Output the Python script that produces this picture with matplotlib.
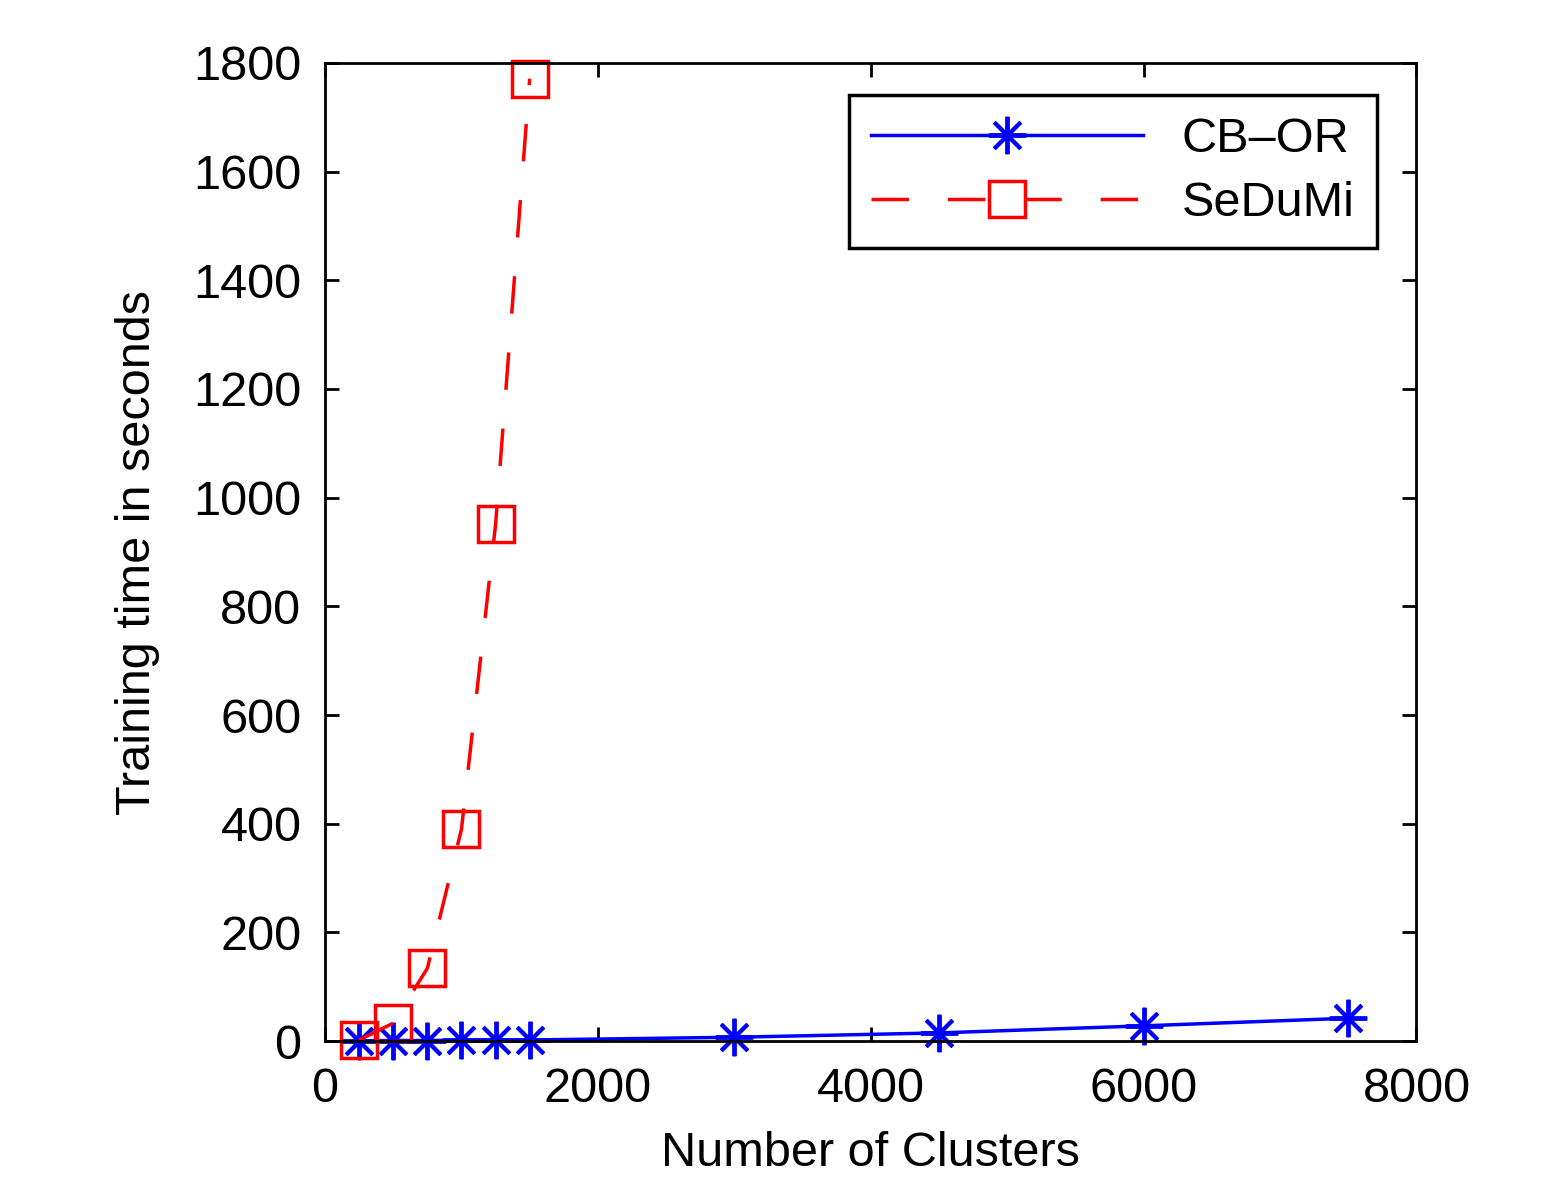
import matplotlib.pyplot as plt

# data
clusters_cbor = [250, 500, 750, 1000, 1250, 1500, 3000, 4500, 6000, 7500]
time_cbor = [0.5, 1, 1, 1.5, 1.5, 2, 7, 15, 28, 42]

clusters_sedumi = [250, 500, 750, 1000, 1250, 1500]
time_sedumi = [2, 33, 134, 390, 951, 1771]

plt.rcParams['font.family'] = ['Liberation Sans', 'DejaVu Sans']
plt.rcParams['lines.scale_dashes'] = False

fig = plt.figure(figsize=(15.45, 11.79), dpi=100)
ax = fig.add_axes([0.2104, 0.117, 0.7064, 0.8296])

# CB-OR: solid blue with asterisk markers
ax.plot(clusters_cbor, time_cbor, color='blue', linewidth=2.5,
        marker=(8, 2, 0), markersize=27, markeredgewidth=2.8,
        label='CB\u2013OR', clip_on=False)

# SeDuMi: dashed red with open squares
ax.plot(clusters_sedumi, time_sedumi, color='red', linewidth=2.5,
        dashes=(27, 28), marker='s', markersize=26,
        markerfacecolor='none', markeredgewidth=2.5,
        label='SeDuMi', clip_on=False)

ax.set_xlim(0, 8000)
ax.set_ylim(0, 1800)
ax.set_xticks([0, 2000, 4000, 6000, 8000])
ax.set_yticks(range(0, 1801, 200))

ax.tick_params(direction='in', top=True, right=True, length=10,
               width=2, labelsize=35)
ax.tick_params(axis='x', pad=19)
ax.tick_params(axis='y', pad=17)
for side in ax.spines.values():
    side.set_linewidth(2)

ax.set_xlabel('Number of Clusters', fontsize=35, labelpad=13)
ax.set_ylabel('Training time in seconds', fontsize=35, labelpad=24)

leg = ax.legend(loc='upper right', bbox_to_anchor=(0.9634, 0.9673),
                borderaxespad=0, fontsize=35, handlelength=5.6,
                handletextpad=0.8, fancybox=False, edgecolor='black',
                framealpha=1, borderpad=0.45, labelspacing=0.4)
leg.get_frame().set_linewidth(2.5)

fig.savefig('out.png', dpi=100)
plt.close(fig)
